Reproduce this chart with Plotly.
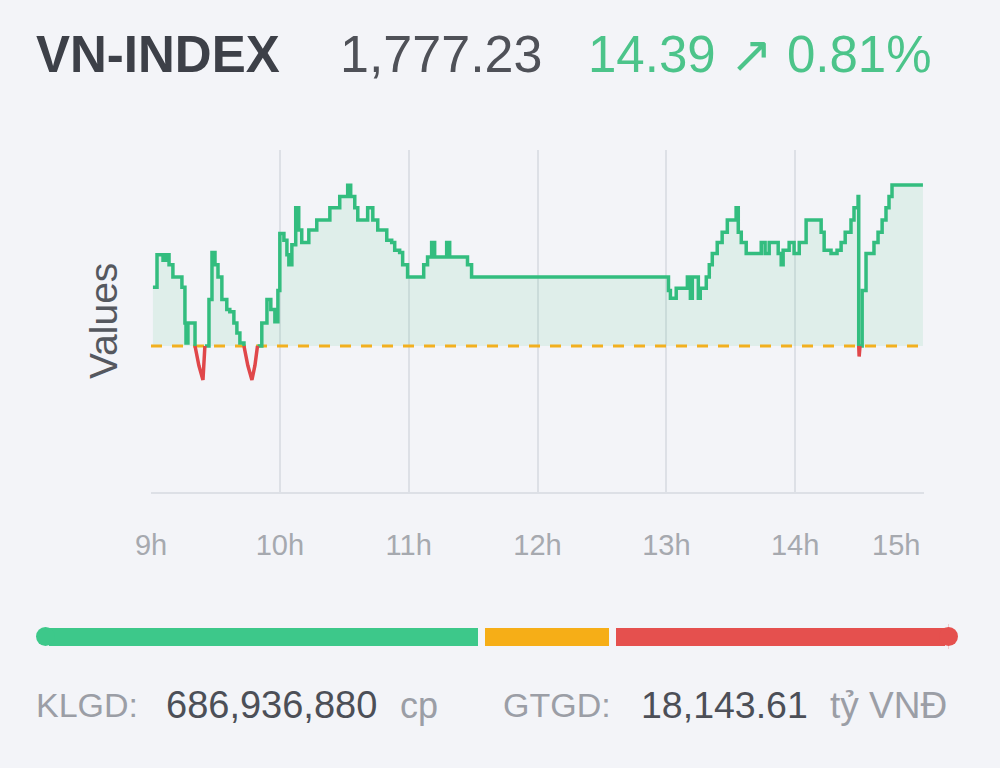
import plotly.graph_objects as go

# intraday VN-INDEX, minutes after 09:00 and index value
REF = 1762.84  # previous close (1,777.23 - 14.39)

minutes = [
    0.9, 2.8, 4.2, 5.6, 7.0, 8.4, 10.2, 13.5, 14.4, 15.8, 16.3, 17.2, 19.1,
    20.5, 22.3, 24.2, 25.1, 27.0, 28.4, 29.8, 31.2, 33.0, 35.3, 36.7, 38.6,
    40.0, 41.4, 43.3, 45.1, 47.0, 48.4, 49.6, 51.6, 54.0, 55.8, 57.7, 59.1,
    60.0, 61.9, 63.3, 64.2, 65.6, 67.4, 68.8, 70.2, 72.1, 73.5, 75.3, 77.2,
    80.9, 83.3, 86.5, 87.9, 90.2, 91.6, 93.0, 94.9, 96.3, 99.5, 100.9, 102.3,
    103.3, 105.6, 107.9, 109.8, 112.1, 113.5, 115.8, 117.2, 119.5, 125.1,
    127.0, 128.8, 130.7, 132.1, 136.3, 137.7, 139.1, 146.0, 147.4, 149.3,
    240.0, 241.0, 241.9, 243.7, 244.6, 248.4, 249.8, 251.2, 252.1, 254.0,
    254.9, 255.8, 257.7, 258.6, 260.0, 261.4, 263.7, 266.0, 268.4, 270.7,
    272.5, 273.5, 274.9, 277.2, 283.3, 284.2, 286.0, 287.9, 290.2, 292.1,
    293.5, 294.4, 297.2, 299.5, 301.9, 303.3, 305.1, 310.2, 312.1, 313.5,
    316.7, 319.5, 321.4, 323.3, 326.0, 327.4, 329.3, 329.6, 329.8, 330.2,
    331.2, 333.0, 335.3, 336.7, 338.6, 340.5, 342.3, 343.7, 345.1, 359.5,
]
values = [
    1768.1, 1771.0, 1771.0, 1770.5, 1771.0, 1770.1, 1769.0, 1769.0, 1768.1,
    1764.9, 1763.1, 1764.9, 1764.9, 1762.84, 1761.1, 1759.8, 1762.84, 1767.0,
    1771.2, 1770.1, 1769.0, 1767.0, 1766.1, 1765.9, 1764.9, 1764.0, 1763.1,
    1762.84, 1761.1, 1759.8, 1761.1, 1762.84, 1764.9, 1767.0, 1766.1, 1765.0,
    1767.8, 1772.9, 1772.3, 1771.0, 1770.1, 1771.9, 1775.2, 1773.2, 1772.1,
    1772.1, 1773.2, 1773.2, 1774.1, 1774.1, 1775.2, 1775.2, 1776.2, 1776.2,
    1777.2, 1776.2, 1775.2, 1774.1, 1774.1, 1775.2, 1775.2, 1774.1, 1773.2,
    1773.2, 1772.3, 1772.1, 1771.4, 1771.2, 1770.1, 1769.0, 1769.0, 1770.1,
    1770.8, 1772.1, 1770.8, 1770.8, 1772.1, 1770.8, 1770.8, 1770.1, 1769.0,
    1769.0, 1767.8, 1767.1, 1767.1, 1768.0, 1768.0, 1769.0, 1767.1, 1769.0,
    1769.0, 1767.1, 1768.0, 1768.0, 1769.0, 1770.1, 1771.1, 1772.1, 1773.0,
    1774.1, 1774.1, 1775.2, 1773.0, 1772.1, 1771.1, 1771.1, 1772.1, 1771.1,
    1772.1, 1772.1, 1771.1, 1770.1, 1771.4, 1772.1, 1771.1, 1772.1, 1772.1,
    1774.1, 1774.1, 1773.0, 1771.4, 1771.1, 1771.4, 1772.1, 1773.0, 1774.1,
    1775.2, 1776.2, 1762.84, 1761.9, 1762.84, 1767.8, 1771.1, 1771.1, 1772.1,
    1773.0, 1774.1, 1775.2, 1776.2, 1777.23, 1777.23,
]

hour_ticks = [9, 10, 11, 12, 13, 14]
hour_labels = ["9h", "10h", "11h", "12h", "13h", "14h"]

# market breadth bar: advancing / unchanged / declining
breadth_names = ["Tăng", "Đứng giá", "Giảm"]
breadth_counts = [193, 58, 149]
breadth_colors = ["#3dc88a", "#f6ae17", "#e5504e"]

BG = "#f3f4f8"
GREEN = "#33bd7f"
RED = "#e0474a"
GRID = "#dde0e6"
FONT = "Liberation Sans, Arial"

hours = [9 + m / 60 for m in minutes]
up_y = [v if v >= REF else None for v in values]
down_y = [v if v <= REF else None for v in values]
fill_y = [max(v, REF) for v in values]

fig = go.Figure()

# area between the index and the reference line
fig.add_trace(go.Scatter(x=[hours[0], hours[-1]], y=[REF, REF], mode="lines",
                         line=dict(width=0), hoverinfo="skip", showlegend=False))
fig.add_trace(go.Scatter(x=hours, y=fill_y, mode="lines", line=dict(width=0, shape="hv"),
                         fill="tonexty", fillcolor="rgba(61,191,132,0.11)",
                         hoverinfo="skip", showlegend=False))

fig.add_trace(go.Scatter(x=[9, 15], y=[REF, REF], mode="lines",
                         line=dict(color="#f2b01f", width=3, dash="11px,10px"),
                         hoverinfo="skip", showlegend=False))

fig.add_trace(go.Scatter(x=hours, y=up_y, mode="lines", name="VN-INDEX",
                         line=dict(color=GREEN, width=3.5, shape="hv"),
                         connectgaps=False, showlegend=False))
fig.add_trace(go.Scatter(x=hours, y=down_y, mode="lines", name="VN-INDEX",
                         line=dict(color=RED, width=3.5),
                         connectgaps=False, showlegend=False))

# breadth bar, segments split by background-coloured outlines
for name, cnt, col in zip(breadth_names, breadth_counts, breadth_colors):
    fig.add_trace(go.Bar(x=[cnt], y=[0], orientation="h", name=name,
                         marker=dict(color=col, line=dict(color=BG, width=7)),
                         width=1, xaxis="x2", yaxis="y2", showlegend=False))
# round caps at both ends
fig.add_trace(go.Scatter(x=[0, sum(breadth_counts)], y=[0, 0], mode="markers",
                         marker=dict(size=19, color=[breadth_colors[0], breadth_colors[-1]]),
                         xaxis="x2", yaxis="y2", cliponaxis=False,
                         hoverinfo="skip", showlegend=False))


def py(px):
    return 1 - px / 768


def label(text, x, y, size, color, bold=False):
    if bold:
        text = "<b>" + text + "</b>"
    fig.add_annotation(text=text, x=x / 1000, y=py(y), xref="paper", yref="paper",
                       xanchor="left", yanchor="middle", showarrow=False,
                       font=dict(size=size, color=color, family=FONT))


label("VN-INDEX", 34, 54, 51, "#3d4048", bold=True)
label("1,777.23", 338, 54, 52, "#4f5158")
label("14.39 ↗ 0.81%", 586, 54, 51, "#4cc48a")

label("KLGD:", 34, 705, 34, "#9b9ea6")
label("686,936,880", 164, 705, 38, "#4c4f57")
label("cp", 398, 705, 36, "#9b9ea6")
label("GTGD:", 501, 705, 34, "#9b9ea6")
label("18,143.61", 639, 705, 37.5, "#4c4f57")
label("tỷ VNĐ", 828, 705, 37, "#9b9ea6")

fig.add_annotation(text="Values", x=103 / 1000, y=0.5, xref="paper", yref="y domain",
                   textangle=-90, showarrow=False, xanchor="center", yanchor="middle",
                   font=dict(size=39, color="#55585f", family=FONT))
fig.add_annotation(text="15h", x=15, y=py(545), xref="x", yref="paper",
                   xanchor="right", yanchor="middle", xshift=-2, showarrow=False,
                   font=dict(size=29, color="#a6a9af", family=FONT))

fig.update_layout(
    width=1000, height=768,
    margin=dict(l=0, r=0, t=0, b=0, pad=0),
    paper_bgcolor=BG, plot_bgcolor=BG,
    barmode="stack",
    xaxis=dict(domain=[0.151, 0.924], range=[9, 15], automargin=False,
               tickvals=hour_ticks + [15], ticktext=hour_labels + [""],
               showgrid=True, gridcolor=GRID, gridwidth=1.5,
               showline=True, linecolor=GRID, linewidth=2,
               zeroline=False, ticks="outside", ticklen=26,
               tickcolor="rgba(0,0,0,0)",
               tickfont=dict(size=29, color="#a6a9af", family=FONT)),
    yaxis=dict(domain=[py(492), py(150)], range=[1749.79, 1780.36],
               automargin=False, showgrid=False, zeroline=False,
               showticklabels=False),
    xaxis2=dict(domain=[0.0455, 0.9485], range=[0, sum(breadth_counts)],
                visible=False, anchor="y2", automargin=False),
    yaxis2=dict(domain=[py(649), py(624)], range=[-0.5, 0.5],
                visible=False, anchor="x2", automargin=False),
)

fig.write_html("out.html", config={"responsive": False, "displayModeBar": False},
               post_script="document.body.style.margin='0';"
                           "document.body.style.overflow='hidden';")
